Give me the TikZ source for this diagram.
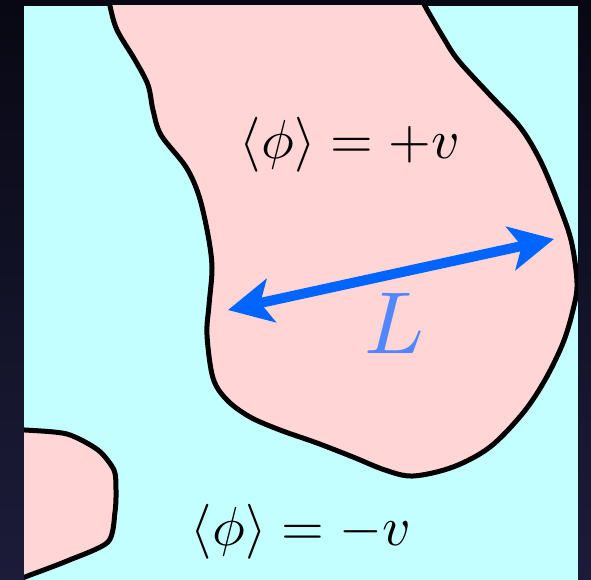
\documentclass[tikz,border=0pt]{standalone}
\usetikzlibrary{arrows.meta}
\definecolor{bgtop}{RGB}{8,8,20}
\definecolor{bgbot}{RGB}{28,28,58}
\definecolor{cyanbg}{RGB}{196,255,255}
\definecolor{pinkdom}{RGB}{255,213,213}
\definecolor{arrblue}{RGB}{0,100,255}
\definecolor{lblue}{RGB}{80,135,255}
\tikzset{
  pinkregion/.style={fill=pinkdom, draw=black, line width=5pt, line join=round},
  lenarrow/.style={draw=arrblue, line width=10pt, {Stealth[length=44pt,width=44pt,inset=11pt]}-{Stealth[length=44pt,width=44pt,inset=11pt]}},
  vevlabel/.style={inner sep=0pt, anchor=base, scale=5.5},
  lenlabel/.style={inner sep=0pt, anchor=base, text=lblue, scale=8.8}
}
\begin{document}
\begin{tikzpicture}[x=1pt,y=-1pt]
\useasboundingbox (0,0) rectangle (591,580);
\shade[top color=bgtop, bottom color=bgbot] (0,0) rectangle (591,580);
\fill[cyanbg] (24,6) rectangle (578,580);
\begin{scope}
\clip (24,6) rectangle (578,580);
\path[pinkregion] plot[smooth, tension=0.55] coordinates {
 (109,-4) (110,6) (117,30) (135,60) (148,85) (153,110) (161,135)
 (186,167) (199,196) (208,235) (212,268) (209,305) (207,335) (213,378)
 (227,400) (250,417) (280,430) (317,443) (353,457) (385,470) (413,476)
 (453,467) (490,447) (523,413) (545,380) (563,343) (573,310) (577,283)
 (571,240) (557,200) (540,160) (520,127) (490,95) (458,60) (443,37) (425,6) (421,-4)};
\path[pinkregion] plot[smooth, tension=0.45] coordinates {
 (14,430) (25,430) (67,434) (98,450) (114,470) (116,490) (115,512) (108,542)
 (67,561) (25,577) (14,582)};
\end{scope}
\node[vevlabel] (plus) at (350,159) {$\langle\phi\rangle = +v$};
\node[vevlabel] (minus) at (301,545) {$\langle\phi\rangle = -v$};
\coordinate (La) at (228,310);
\coordinate (Lb) at (554,239);
\draw[lenarrow] (La) -- (Lb);
\node[lenlabel] (L) at (394,353) {$L$};
\end{tikzpicture}
\end{document}
